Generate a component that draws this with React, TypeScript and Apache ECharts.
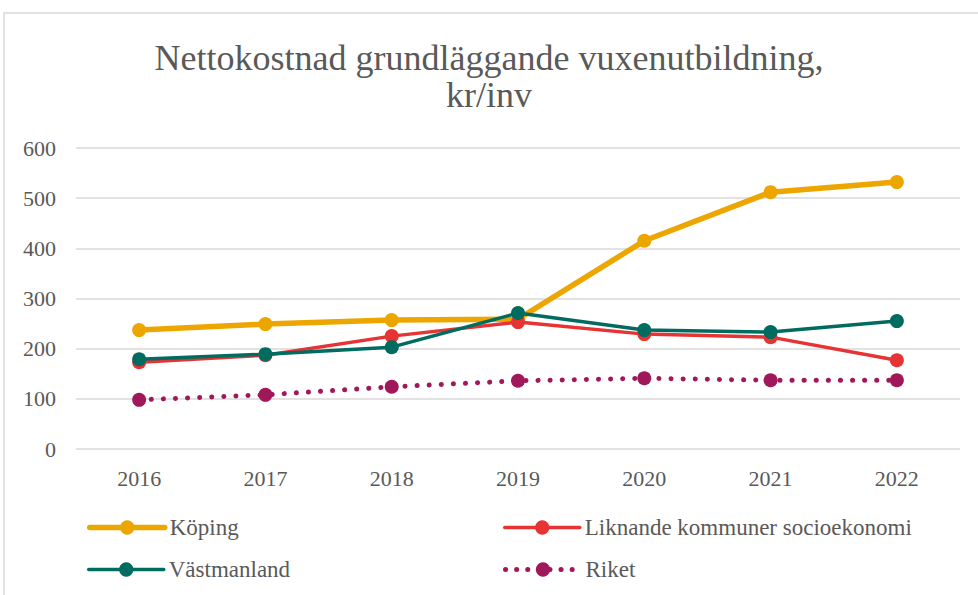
import React, { useEffect, useRef } from "react";
import * as echarts from "echarts";

const years = ["2016", "2017", "2018", "2019", "2020", "2021", "2022"];
const koping = [237, 249, 257, 259, 415, 512, 532];
const liknande = [173, 187, 225, 253, 229, 223, 177];
const vastmanland = [179, 189, 203, 271, 237, 233, 255];
const riket = [98, 108, 124, 136, 141, 137, 137];

const FONT = "'Liberation Serif', serif";
const TXT = "#595959";

export default function App() {
  const ref = useRef<HTMLDivElement>(null);
  useEffect(() => {
    const chart = echarts.init(ref.current!, undefined, { renderer: "svg" });
    const mk = (name: string, data: number[], color: string, width: number, type: any = "solid") => ({
      name,
      type: "line",
      data,
      symbol: "circle",
      symbolSize: 14,
      itemStyle: { color },
      lineStyle: { color, width, type, cap: "round" },
      z: 3,
    });
    const legendBase = {
      itemWidth: 75,
      itemHeight: 18,
      itemGap: 4,
      padding: 0,
      textStyle: { fontFamily: FONT, fontSize: 23, color: TXT },
    };
    chart.setOption({
      animation: false,
      textStyle: { fontFamily: FONT },
      title: {
        text: "Nettokostnad grundläggande vuxenutbildning,\nkr/inv",
        left: "center",
        top: 34,
        textStyle: { fontFamily: FONT, fontSize: 36, fontWeight: "normal", color: TXT, lineHeight: 37 },
      },
      graphic: [
        {
          type: "rect",
          shape: { x: 4, y: 13, width: 1000, height: 620 },
          style: { fill: "none", stroke: "#d9d9d9", lineWidth: 1.5 },
          silent: true,
        },
      ],
      legend: [
        { ...legendBase, data: ["Köping"], left: 87, top: 516, lineStyle: { width: 5.5, cap: "round" } },
        { ...legendBase, data: ["Liknande kommuner socioekonomi"], left: 503, top: 516, lineStyle: { width: 3.5, cap: "round" } },
        { ...legendBase, data: ["Västmanland"], left: 87, top: 558, lineStyle: { width: 3.5, cap: "round" } },
        { ...legendBase, data: ["Riket"], left: 503, top: 558, lineStyle: { width: 5, type: [0.1, 11], cap: "round" } },
      ],
      grid: { left: 76, right: 18, top: 148, bottom: 146, containLabel: false },
      xAxis: {
        type: "category",
        data: years,
        boundaryGap: true,
        axisLine: { show: false },
        axisTick: { show: false },
        axisLabel: { fontFamily: FONT, fontSize: 22, color: TXT, margin: 18 },
      },
      yAxis: {
        type: "value",
        min: 0,
        max: 600,
        interval: 100,
        axisLine: { show: false },
        axisTick: { show: false },
        axisLabel: { fontFamily: FONT, fontSize: 22, color: TXT, margin: 20, verticalAlign: "middle", padding: [8, 0, 0, 0] },
        splitLine: { lineStyle: { color: "#d9d9d9", width: 1.5 } },
      },
      series: [
        mk("Köping", koping, "#EDA600", 5.5),
        mk("Liknande kommuner socioekonomi", liknande, "#E63333", 3.5),
        mk("Västmanland", vastmanland, "#006B5F", 3.5),
        mk("Riket", riket, "#A0185A", 5, [0.1, 12]),
      ],
    });
    return () => chart.dispose();
  }, []);
  return (
    <div
      ref={ref}
      style={{ position: "fixed", left: 0, top: 0, width: 978, height: 595, background: "#fff" }}
    />
  );
}
